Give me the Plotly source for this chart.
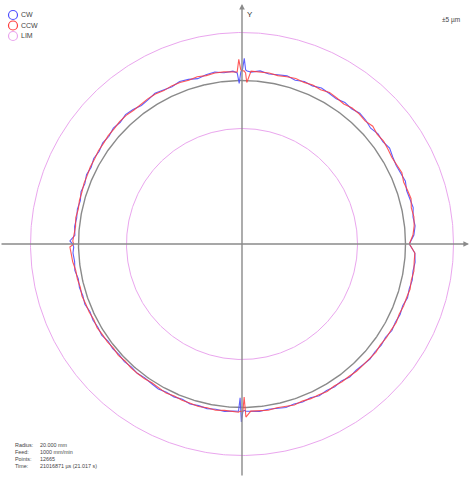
import numpy as np
import plotly.graph_objects as go

# ---- measured data: radial deviation from the nominal radius, µm ----
ANGLE_DEG = [0, 3, 6, 9, 12, 15, 18, 21, 24, 27, 30, 33, 36, 39, 42, 45, 48, 51, 54, 57,
             60, 63, 66, 69, 72, 75, 78, 81, 84, 87,
             88.3, 88.8, 89.3, 89.8, 90.4, 91.0, 91.6,
             93, 96, 99, 102, 105, 108, 111, 114, 117, 120, 123, 126, 129, 132, 135, 138,
             141, 144, 147, 150, 153, 156, 159, 162, 165, 168, 171, 174, 177,
             179, 180, 181,
             183, 186, 189, 192, 195, 198, 201, 204, 207, 210, 213, 216, 219, 222, 225,
             228, 231, 234, 237, 240, 243, 246, 249, 252, 255, 258, 261, 264, 267,
             268.8, 269.3, 269.8, 270.3, 270.8, 271.3,
             273, 276, 279, 282, 285, 288, 291, 294, 297, 300, 303, 306, 309, 312, 315,
             318, 321, 324, 327, 330, 333, 336, 339, 342, 345, 348, 351, 354, 357,
             358.5]

CW_DEV_UM = [0.4, 0.9, 1.1, 1.0, 1.2, 1.1, 1.0, 1.2, 1.1, 1.0, 1.1, 1.3, 1.1, 1.2, 1.0,
             1.2, 1.3, 1.1, 1.2, 1.0, 1.1, 1.2, 1.0, 1.1, 0.9, 1.1, 1.0, 0.9, 1.1, 0.9,
             1.0, 1.1, 2.3, 1.2, 0.9, -0.3, 0.8,
             1.0, 0.9, 1.1, 1.0, 0.8, 1.0, 1.1, 0.9, 1.0, 1.1, 0.9, 0.8, 1.0, 1.1, 0.9,
             1.0, 0.8, 0.9, 0.7, 0.8, 0.6, 0.7, 0.5, 0.6, 0.4, 0.5, 0.4, 0.5, 0.4,
             0.9, 0.6, 0.5,
             0.6, 0.5, 0.6, 0.4, 0.5, 0.4, 0.5, 0.3, 0.4, 0.3, 0.4, 0.2, 0.3, 0.2, 0.3,
             0.2, 0.3, 0.2, 0.3, 0.4, 0.3, 0.4, 0.3, 0.5, 0.4, 0.5, 0.4, 0.5, 0.4,
             0.4, -1.0, 1.5, 0.4, 0.3, 0.4,
             0.4, 0.5, 0.4, 0.5, 0.6, 0.5, 0.6, 0.5, 0.7, 0.6, 0.7, 0.6, 0.8, 0.7, 0.8,
             0.9, 0.8, 0.9, 0.8, 1.0, 0.9, 1.0, 0.9, 1.1, 1.0, 1.1, 1.0, 1.1, 1.0,
             0.7]

CCW_DEV_UM = [0.4, 0.8, 1.0, 1.1, 1.0, 1.2, 1.1, 1.0, 1.2, 1.1, 1.0, 1.1, 1.2, 1.1, 1.3,
              1.1, 1.2, 1.2, 1.0, 1.1, 1.2, 1.0, 1.1, 1.0, 1.1, 1.0, 0.9, 1.0, 1.0, 1.0,
              -0.2, 0.8, 1.0, 1.0, 1.1, 2.2, 0.9,
              0.9, 1.0, 1.0, 0.9, 1.0, 0.9, 1.0, 1.0, 0.9, 1.0, 1.0, 0.9, 0.9, 1.0, 1.0,
              0.9, 0.9, 0.8, 0.8, 0.7, 0.7, 0.6, 0.6, 0.5, 0.5, 0.4, 0.5, 0.4, 0.5,
              0.6, 0.5, 0.9,
              0.8, 0.7, 0.5, 0.5, 0.4, 0.5, 0.4, 0.4, 0.3, 0.4, 0.3, 0.3, 0.2, 0.3, 0.2,
              0.3, 0.3, 0.3, 0.2, 0.3, 0.4, 0.3, 0.4, 0.4, 0.5, 0.4, 0.5, 0.4, 0.4,
              0.5, 0.4, 0.4, 0.4, -1.1, 1.0,
              0.4, 0.4, 0.5, 0.4, 0.5, 0.6, 0.5, 0.6, 0.6, 0.7, 0.6, 0.7, 0.7, 0.8, 0.8,
              0.8, 0.9, 0.8, 0.9, 0.9, 1.0, 0.9, 1.0, 1.0, 1.1, 1.0, 1.1, 1.0, 1.0,
              0.7]

LIM_UM = 5.0
LEGEND_NAMES = ["CW", "CCW", "LIM"]
SCALE_LABEL = "±5 µm"
INFO_LABELS = ["Radius:", "Feed:", "Points:", "Time:"]
INFO_VALUES = ["20.000 mm", "1000 mm/min", "12665", "21016871 µs (21.017 s)"]

assert len(ANGLE_DEG) == len(CW_DEV_UM) == len(CCW_DEV_UM)

# ---- plot geometry ----
W, H = 473, 477
CX, CY = 242, 244          # origin position in pixels
R_ZERO = 163.5             # drawn radius of the nominal circle
PX_PER_UM = 9.6            # radial magnification of the error

BLUE = "#4f4fff"
RED = "#ff3d3d"
PINK = "#eaa6ee"
GREY = "#8a8a8a"
TEXT = "#444444"
FONT = "Liberation Sans, Arial, sans-serif"


def to_xy(angles_deg, dev_um):
    a = np.deg2rad(np.asarray(angles_deg, dtype=float))
    r = R_ZERO + PX_PER_UM * np.asarray(dev_um, dtype=float)
    x = r * np.cos(a)
    y = r * np.sin(a)
    return np.append(x, x[0]), np.append(y, y[0])


def ring(radius, n=721):
    t = np.linspace(0, 2 * np.pi, n)
    return radius * np.cos(t), radius * np.sin(t)


fig = go.Figure()

# limit circles
for sign in (+1, -1):
    x, y = ring(R_ZERO + sign * PX_PER_UM * LIM_UM)
    fig.add_trace(go.Scatter(x=x, y=y, mode="lines", line=dict(color=PINK, width=1),
                             hoverinfo="skip", showlegend=False))

# nominal circle
x, y = ring(R_ZERO)
fig.add_trace(go.Scatter(x=x, y=y, mode="lines", line=dict(color=GREY, width=1.4),
                         hoverinfo="skip", showlegend=False))

# CW and CCW runs
x, y = to_xy(ANGLE_DEG, CW_DEV_UM)
fig.add_trace(go.Scatter(x=x, y=y, mode="lines", name="CW", opacity=0.9,
                         line=dict(color=BLUE, width=1.1), showlegend=False))
x, y = to_xy(ANGLE_DEG, CCW_DEV_UM)
fig.add_trace(go.Scatter(x=x, y=y, mode="lines", name="CCW", opacity=0.85,
                         line=dict(color=RED, width=1.1), showlegend=False))

shapes = []
annotations = []

# axes with arrow heads
x_min, x_max = -CX, W - CX
y_min, y_max = -(H - CY), CY
annotations.append(dict(x=x_max - 4, y=0, ax=x_min, ay=0, xref="x", yref="y",
                        axref="x", ayref="y", showarrow=True, arrowhead=2,
                        arrowsize=0.8, arrowwidth=1.4, arrowcolor=GREY, text=""))
annotations.append(dict(x=0, y=y_max - 4, ax=0, ay=y_min, xref="x", yref="y",
                        axref="x", ayref="y", showarrow=True, arrowhead=2,
                        arrowsize=0.8, arrowwidth=1.4, arrowcolor=GREY, text=""))
annotations.append(dict(x=x_max + 1, y=7, xref="x", yref="y", text="X", showarrow=False,
                        xanchor="right", yanchor="middle",
                        font=dict(family=FONT, size=8, color="#333")))
annotations.append(dict(x=3, y=y_max - 14, xref="x", yref="y", text="Y", showarrow=False,
                        xanchor="left", yanchor="middle",
                        font=dict(family=FONT, size=8, color="#333")))

# legend (circle icon + name)
leg_colors = [BLUE, RED, PINK]
for i, (name, col) in enumerate(zip(LEGEND_NAMES, leg_colors)):
    py = 15 + i * 10.5
    px = 13
    rr = 4.5
    shapes.append(dict(type="circle", xref="paper", yref="paper",
                       x0=(px - rr) / W, x1=(px + rr) / W,
                       y0=1 - (py + rr) / H, y1=1 - (py - rr) / H,
                       line=dict(color=col, width=1.2)))
    annotations.append(dict(x=19 / W, y=1 - py / H, xref="paper", yref="paper",
                            text=name, showarrow=False, xanchor="left",
                            yanchor="middle",
                            font=dict(family=FONT, size=7, color=TEXT)))

# scale label
annotations.append(dict(x=440 / W, y=1 - 20 / H, xref="paper", yref="paper",
                        text=SCALE_LABEL, showarrow=False, xanchor="left",
                        yanchor="middle", font=dict(family=FONT, size=6.5, color=TEXT)))

# run information block: one column of labels, one of values
info_font = dict(family=FONT, size=5.4, color=TEXT)
annotations.append(dict(x=14 / W, y=1 - 441 / H, xref="paper", yref="paper",
                        text="<br>".join(INFO_LABELS), showarrow=False, align="left",
                        xanchor="left", yanchor="top", borderpad=0, font=info_font))
annotations.append(dict(x=39 / W, y=1 - 441 / H, xref="paper", yref="paper",
                        text="<br>".join(INFO_VALUES), showarrow=False, align="left",
                        xanchor="left", yanchor="top", borderpad=0, font=info_font))

fig.update_layout(
    width=W, height=H,
    margin=dict(l=0, r=0, t=0, b=0),
    paper_bgcolor="white", plot_bgcolor="white",
    xaxis=dict(range=[x_min, x_max], visible=False, fixedrange=True),
    yaxis=dict(range=[y_min, y_max], visible=False, fixedrange=True),
    shapes=shapes, annotations=annotations,
    showlegend=False,
)

fig.write_html("out.html")
